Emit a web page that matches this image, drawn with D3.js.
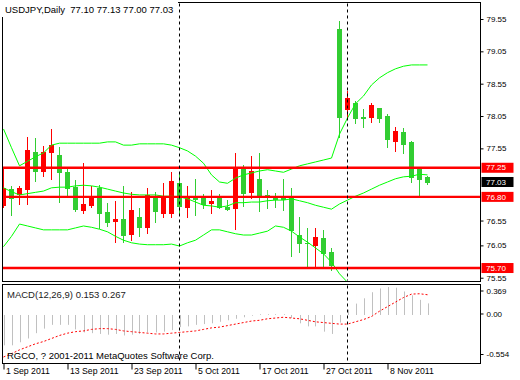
<!DOCTYPE html>
<html><head><meta charset="utf-8">
<script src="https://cdn.jsdelivr.net/npm/d3@7"></script>
<style>
body{margin:0;background:#fff}
svg{display:block}
text{font-family:"Liberation Sans",Arial,sans-serif}
</style>
</head><body>
<svg id="c" width="520" height="380"></svg>
<script>
// ---------- data ----------
const dates = ["2011-09-01","2011-09-02","2011-09-05","2011-09-06","2011-09-07","2011-09-08","2011-09-09","2011-09-12","2011-09-13","2011-09-14",
"2011-09-15","2011-09-16","2011-09-19","2011-09-20","2011-09-21","2011-09-22","2011-09-23","2011-09-26","2011-09-27","2011-09-28",
"2011-09-29","2011-09-30","2011-10-03","2011-10-04","2011-10-05","2011-10-06","2011-10-07","2011-10-10","2011-10-11","2011-10-12",
"2011-10-13","2011-10-14","2011-10-17","2011-10-18","2011-10-19","2011-10-20","2011-10-21","2011-10-24","2011-10-25","2011-10-26",
"2011-10-27","2011-10-28","2011-10-31","2011-11-01","2011-11-02","2011-11-03","2011-11-04","2011-11-07","2011-11-08","2011-11-09",
"2011-11-10","2011-11-11","2011-11-14","2011-11-15"];
const open  = [76.67,76.92,76.84,76.92,77.49,77.20,77.49,77.45,77.19,76.95, 76.60,76.67,76.94,76.57,76.43,76.46,76.23,76.49,76.33,76.80,
               76.55,76.55,77.01,76.64,76.80,76.80,76.71,76.80,76.64,76.63, 77.25,76.88,77.08,76.83,76.80,76.80,76.80,76.21,76.09,76.06,
               76.16,75.95,79.40,78.16,78.25,78.03,78.03,78.17,78.05,77.66, 77.80,77.65,77.26,77.10];
const high  = [77.25,76.97,76.97,77.73,77.71,77.59,77.85,77.57,77.25,77.06, 77.32,76.97,76.98,76.71,76.74,76.97,76.88,76.63,76.94,76.88,
               77.01,77.19,77.19,76.97,77.08,76.84,76.91,76.84,76.75,77.48, 77.29,77.43,77.48,76.91,76.86,77.08,76.94,76.49,76.32,76.32,
               76.29,76.01,79.52,78.44,78.28,78.16,78.25,78.17,78.08,77.88, 77.86,77.66,77.26,77.13];
const low   = [76.64,76.52,76.69,76.69,77.05,77.12,77.08,76.72,76.80,76.58, 76.55,76.64,76.32,76.35,76.10,76.10,76.13,76.19,76.24,76.41,
               76.49,76.49,76.52,76.49,76.52,76.63,76.55,76.63,76.60,76.30, 76.66,76.78,76.58,76.63,76.64,76.60,75.88,75.95,75.70,75.70,
               75.70,75.67,77.73,78.02,77.94,77.88,77.96,77.96,77.57,77.51, 77.48,77.03,76.80,77.00];
const close = [76.94,76.78,76.94,77.53,77.20,77.49,77.60,77.19,76.94,76.61, 76.69,76.81,76.55,76.41,76.46,76.21,76.60,76.33,76.83,76.58,
               76.78,77.05,76.66,76.80,76.77,76.69,76.74,76.64,76.61,77.25, 76.86,77.20,76.81,76.80,76.77,76.77,76.29,76.09,76.08,76.18,
               75.93,75.75,78.03,78.33,78.02,78.02,78.22,78.02,77.70,77.82, 77.62,77.11,77.08,77.03];
const bbUpper  = [77.85,77.56,77.28,77.35,77.42,77.48,77.60,77.63,77.63,77.63, 77.63,77.63,77.63,77.65,77.65,77.60,77.60,77.62,77.62,77.62,
                  77.62,77.60,77.56,77.51,77.43,77.32,77.14,77.03,77.01,77.09, 77.14,77.17,77.20,77.22,77.20,77.18,77.23,77.28,77.31,77.34,
                  77.37,77.40,77.77,78.02,78.24,78.36,78.53,78.64,78.72,78.78, 78.82,78.84,78.84,78.84];
const bbMiddle = [76.94,76.88,76.83,76.85,76.87,76.89,76.94,76.95,76.95,76.97, 76.98,76.97,76.95,76.92,76.89,76.86,76.84,76.83,76.83,76.83,
                  76.81,76.81,76.80,76.77,76.72,76.67,76.66,76.64,76.66,76.71, 76.71,76.72,76.72,76.74,76.75,76.75,76.77,76.74,76.71,76.67,
                  76.64,76.61,76.69,76.75,76.81,76.86,76.92,76.98,77.03,77.08, 77.11,77.12,77.15,77.14];
const bbLower  = [76.03,76.19,76.38,76.35,76.32,76.29,76.29,76.29,76.29,76.32, 76.35,76.33,76.30,76.26,76.19,76.13,76.09,76.07,76.06,76.06,
                  76.06,76.07,76.04,76.09,76.13,76.21,76.29,76.29,76.26,76.23, 76.21,76.21,76.24,76.27,76.35,76.33,76.27,76.18,76.10,76.01,
                  75.92,75.79,75.61,75.48,75.39,75.36,75.31,75.33,75.34,75.38, 75.39,75.41,75.47,75.44];
const macdMain   = [-0.40,-0.40,-0.36,-0.31,-0.24,-0.18,-0.13,-0.13,-0.13,-0.19, -0.23,-0.24,-0.25,-0.26,-0.25,-0.27,-0.26,-0.25,-0.23,-0.23,
                    -0.22,-0.20,-0.16,-0.15,-0.13,-0.12,-0.11,-0.09,-0.07,-0.05, -0.03,-0.01,0.01,0.01,0.01,0.01,-0.04,-0.11,-0.15,-0.15,
                    -0.22,-0.25,-0.10,0.07,0.15,0.22,0.30,0.35,0.369,0.36, 0.31,0.26,0.20,0.153];
const macdSignal = [-0.554,-0.51,-0.46,-0.42,-0.38,-0.35,-0.31,-0.27,-0.24,-0.22, -0.21,-0.19,-0.18,-0.18,-0.19,-0.21,-0.22,-0.23,-0.24,-0.25,
                    -0.25,-0.24,-0.23,-0.22,-0.21,-0.19,-0.17,-0.16,-0.14,-0.12, -0.10,-0.08,-0.07,-0.05,-0.04,-0.03,-0.04,-0.05,-0.07,-0.09,
                    -0.10,-0.11,-0.12,-0.12,-0.09,-0.06,-0.02,0.05,0.11,0.17, 0.23,0.275,0.28,0.267];
const levels = [77.25, 76.80, 75.70];
const lastPrice = 77.03;
const priceTicks = [79.55, 79.05, 78.55, 78.05, 77.55, 76.55, 76.05, 75.55];
const macdTicks = [0.369, 0, -0.554];
const timeTickIdx = [0, 8, 16, 24, 32, 40, 48];
const timeTickLabels = ["1 Sep 2011","13 Sep 2011","23 Sep 2011","5 Oct 2011","17 Oct 2011","27 Oct 2011","8 Nov 2011"];
const separatorIdx = [22, 43];
const titleText = "USDJPY,Daily  77.10 77.13 77.00 77.03";
const macdText = "MACD(12,26,9) 0.153 0.267";
const copyText = "RGCO, ? 2001-2011 MetaQuotes Software Corp.";

// ---------- layout ----------
const svg = d3.select("#c");
const L = 2.5, R = 480.5, T = 2.5, B = 281.5, MT = 284.5, MB = 363.5;
const x = d3.scaleLinear().domain([0, dates.length - 1]).range([3.5, 3.5 + 8 * (dates.length - 1)]);
const y = d3.scaleLinear().domain([75.55, 79.55]).range([277.72, 19]);
const ym = d3.scaleLinear().domain([-0.554, 0.369]).range([357, 287]);
const GREEN = "#32cd32", RED = "#ff0000", BAND = "#00ff00";

const defs = svg.append("defs");
defs.append("clipPath").attr("id","cm").append("rect").attr("x",3).attr("y",3).attr("width",477).attr("height",278);
defs.append("clipPath").attr("id","cd").append("rect").attr("x",3).attr("y",285).attr("width",477).attr("height",78);

// frames
svg.append("rect").attr("x",L).attr("y",T).attr("width",R-L).attr("height",B-T).attr("fill","none").attr("stroke","#000");
svg.append("rect").attr("x",L).attr("y",MT).attr("width",R-L).attr("height",MB-MT).attr("fill","none").attr("stroke","#000");

const gm = svg.append("g").attr("clip-path","url(#cm)");
const gd = svg.append("g").attr("clip-path","url(#cd)");

// period separators
separatorIdx.forEach(i => {
  [[T, B],[MT, MB]].forEach(([a,b]) => {
    svg.append("line").attr("x1",x(i)).attr("x2",x(i)).attr("y1",a+1).attr("y2",b-1)
      .attr("stroke","#000").attr("stroke-dasharray","3,3");
  });
});

// candles
const idx = d3.range(dates.length);
idx.forEach(i => {
  const up = close[i] > open[i];
  const col = up ? RED : GREEN;
  const cx = x(i);
  const yh = Math.round(y(high[i])), yl = Math.round(y(low[i]));
  gm.append("line").attr("x1",cx).attr("x2",cx).attr("y1",yh).attr("y2",yl+1).attr("stroke",col);
  const yt = Math.round(y(Math.max(open[i], close[i])));
  const yb = Math.round(y(Math.min(open[i], close[i])));
  gm.append("rect").attr("x",cx-2.5).attr("y",yt).attr("width",5).attr("height",Math.max(1, yb-yt+1)).attr("fill",col);
});

// bollinger bands
const line = d3.line().x((d,i)=>x(i)).y(d=>y(d));
[bbUpper, bbMiddle, bbLower].forEach(s => {
  gm.append("path").attr("d", line(s)).attr("fill","none").attr("stroke",BAND).attr("stroke-width",1);
});

// horizontal levels
levels.forEach(v => {
  gm.append("line").attr("x1",3).attr("x2",R).attr("y1",y(v)).attr("y2",y(v)).attr("stroke",RED).attr("stroke-width",2.3);
});

// title with white background
svg.append("rect").attr("x",0).attr("y",0).attr("width",178).attr("height",17).attr("fill","#fff");
svg.append("text").attr("x",5).attr("y",13).attr("font-size","9.5px").attr("fill","#000").attr("xml:space","preserve").text(titleText);

// price axis
const nudge = {"76.55": 8};
const pa = svg.append("g").attr("transform",`translate(${R},0)`)
  .call(d3.axisRight(y).tickValues(priceTicks).tickSize(3).tickPadding(3).tickFormat(d=>d.toFixed(2)));
pa.select(".domain").remove();
pa.selectAll(".tick").each(function(d){
  const n = nudge[d.toFixed(2)] || 0;
  if (n) d3.select(this).attr("transform", `translate(0,${y(d)+n})`);
});
pa.selectAll("text").attr("font-size","8px").attr("fill","#000").attr("font-family","Liberation Sans, Arial, sans-serif");
pa.selectAll("line").attr("stroke","#000");

// level labels
levels.forEach(v => {
  svg.append("rect").attr("x",481.5).attr("y",y(v)-5).attr("width",32).attr("height",10).attr("fill",RED);
  svg.append("text").attr("x",486).attr("y",y(v)).attr("dy","0.34em").attr("font-size","8px").attr("fill","#fff").text(v.toFixed(2));
});
svg.append("rect").attr("x",481.5).attr("y",y(lastPrice)-5).attr("width",32).attr("height",10).attr("fill","#000");
svg.append("text").attr("x",486).attr("y",y(lastPrice)).attr("dy","0.34em").attr("font-size","8px").attr("fill","#fff").text(lastPrice.toFixed(2));

// MACD histogram
idx.forEach(i => {
  const cx = Math.round(x(i)) + 0.5;
  gd.append("line").attr("x1",cx).attr("x2",cx).attr("y1",ym(0)).attr("y2",ym(macdMain[i])).attr("stroke","#c0c0c0");
});
gd.append("path").attr("d", d3.line().x((d,i)=>x(i)).y(d=>ym(d))(macdSignal))
  .attr("fill","none").attr("stroke",RED).attr("stroke-width",1).attr("stroke-dasharray","2,2");

svg.append("text").attr("x",7).attr("y",297.5).attr("font-size","9.5px").attr("fill","#222").text(macdText);
svg.append("text").attr("x",7).attr("y",358.5).attr("font-size","9.5px").attr("fill","#000").text(copyText);

// MACD axis
const mnudge = {"0.369": 4, "0.000": -1, "-0.554": -2.5};
const ma = svg.append("g").attr("transform",`translate(${R},0)`)
  .call(d3.axisRight(ym).tickValues(macdTicks).tickSize(3).tickPadding(3).tickFormat(d => d===0 ? "0.00" : d.toFixed(3)));
ma.select(".domain").remove();
ma.selectAll(".tick").each(function(d){
  const n = mnudge[d.toFixed(3)] || 0;
  d3.select(this).attr("transform", `translate(0,${ym(d)+n})`);
});
ma.selectAll("text").attr("font-size","8px").attr("fill","#000").attr("font-family","Liberation Sans, Arial, sans-serif");
ma.selectAll("line").attr("stroke","#000");

// time axis
const ta = svg.append("g").attr("transform",`translate(0,${MB})`)
  .call(d3.axisBottom(x).tickValues(timeTickIdx).tickSize(6).tickFormat((d,i)=>timeTickLabels[i]));
ta.select(".domain").remove();
ta.selectAll("line").attr("stroke","#000");
ta.selectAll("text").attr("text-anchor","start").attr("x",2).attr("y",4.3).attr("dy","0.71em")
  .attr("font-size","8.7px").attr("fill","#000").attr("font-family","Liberation Sans, Arial, sans-serif");
</script>
</body></html>
